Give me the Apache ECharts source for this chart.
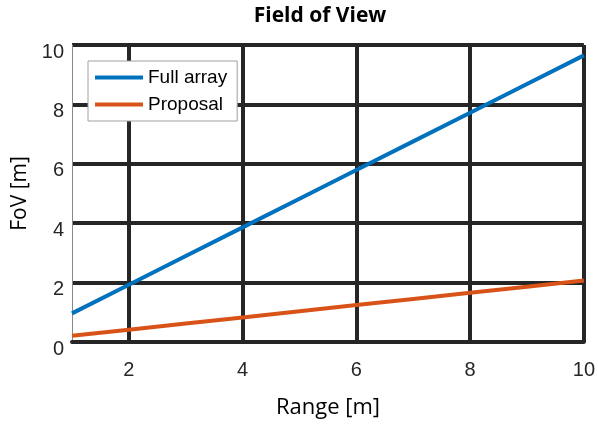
<!DOCTYPE html>
<html><head><meta charset="utf-8">
<script src="https://cdn.jsdelivr.net/npm/echarts@6/dist/echarts.min.js"></script>
<style>html,body{margin:0;padding:0;background:#fff}#c{width:598px;height:424px}</style>
</head><body><div id="c"></div>
<script>
const ranges = [1, 2, 3, 4, 5, 6, 7, 8, 9, 10];
const fullArray = [0.965, 1.93, 2.895, 3.86, 4.825, 5.79, 6.755, 7.72, 8.685, 9.65];
const proposal = [0.207, 0.414, 0.621, 0.828, 1.035, 1.242, 1.449, 1.656, 1.863, 2.07];
const xTicks = [2, 4, 6, 8, 10];
const seriesNames = ['Full array', 'Proposal'];

const chart = echarts.init(document.getElementById('c'));
const dark = '#262626';
chart.setOption({
  animation: false,
  title: {
    text: 'Field of View', left: 315, top: 1, textAlign: 'center',
    textStyle: { fontFamily: 'Open Sans', fontWeight: 'bold', fontSize: 21, color: '#000' }
  },
  legend: {
    left: 88, top: 61, orient: 'vertical',
    backgroundColor: '#fff', borderColor: '#a0a0a0', borderWidth: 1,
    padding: [7, 10, 7, 7], itemGap: 8,
    itemWidth: 48, itemHeight: 4, icon: 'rect',
    textStyle: { fontFamily: 'Liberation Sans', fontSize: 19, color: '#000' },
    data: seriesNames
  },
  grid: { left: 72, right: 13, top: 45, bottom: 81 },
  xAxis: {
    type: 'value', min: 1, max: 10,
    name: 'Range [m]', nameLocation: 'middle', nameGap: 55,
    nameTextStyle: { fontFamily: 'Open Sans', fontSize: 22, color: '#000' },
    axisLine: { lineStyle: { color: dark, width: 4 } },
    axisTick: { show: false, customValues: xTicks },
    axisLabel: { customValues: xTicks, margin: 18, fontFamily: 'Liberation Sans', fontSize: 20, color: dark },
    splitLine: { show: true, lineStyle: { color: dark, width: 4 } }
  },
  yAxis: {
    type: 'value', min: 0, max: 10, interval: 2,
    name: 'FoV [m]', nameLocation: 'middle', nameGap: 41,
    nameTextStyle: { fontFamily: 'Open Sans', fontSize: 21, color: '#000' },
    axisLine: { show: true, lineStyle: { color: '#888', width: 1 } },
    axisTick: { show: false },
    axisLabel: { margin: 8, verticalAlign: 'top', lineHeight: 14, fontFamily: 'Liberation Sans', fontSize: 20, color: dark },
    splitLine: { show: true, lineStyle: { color: dark, width: 4 } }
  },
  series: [
    { name: seriesNames[0], type: 'line', data: ranges.map((r, i) => [r, fullArray[i]]),
      showSymbol: false, lineStyle: { width: 4, color: '#0072BD' }, itemStyle: { color: '#0072BD' }, z: 5 },
    { name: seriesNames[1], type: 'line', data: ranges.map((r, i) => [r, proposal[i]]),
      showSymbol: false, lineStyle: { width: 4, color: '#D95319' }, itemStyle: { color: '#D95319' }, z: 5 }
  ]
});
</script></body></html>
